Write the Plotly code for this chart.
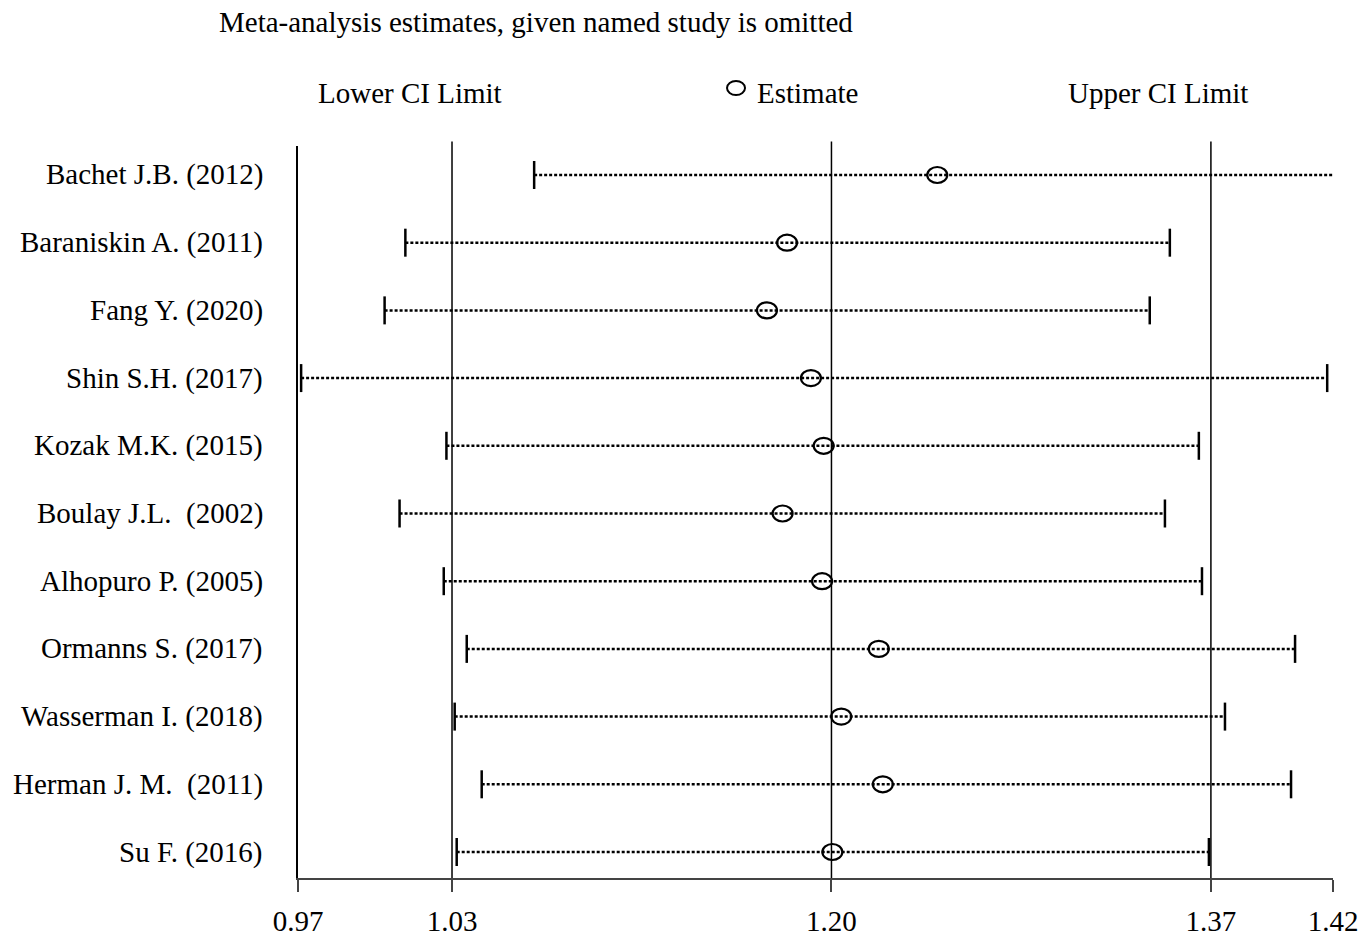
import plotly.graph_objects as go

studies = ["Bachet J.B. (2012)", "Baraniskin A. (2011)", "Fang Y. (2020)", "Shin S.H. (2017)",
           "Kozak M.K. (2015)", "Boulay J.L.\u00a0 (2002)", "Alhopuro P. (2005)", "Ormanns S. (2017)",
           "Wasserman I. (2018)", "Herman J. M.\u00a0 (2011)", "Su F. (2016)"]
estimate = [1.2474, 1.1801, 1.1711, 1.1908, 1.1965, 1.1781, 1.1958, 1.2212, 1.2044, 1.2230, 1.2004]
lower = [1.0668, 1.0091, 0.9998, 0.9624, 1.0275, 1.0065, 1.0263, 1.0366, 1.0312, 1.0433, 1.0321]
upper = [1.4264, 1.3516, 1.3426, 1.4221, 1.3646, 1.3494, 1.3660, 1.4077, 1.3763, 1.4059, 1.3691]
overall = [1.03, 1.20, 1.37]
tick_vals = [0.961, 1.03, 1.20, 1.37, 1.4247]
tick_text = ["0.97", "1.03", "1.20", "1.37", "1.42"]

FONT = "Liberation Serif, Times New Roman, serif"
rows = list(range(len(studies)))

ex, ey = [], []
for i in rows:
    ex += [lower[i], upper[i], None]
    ey += [i, i, None]

fig = go.Figure()
fig.add_trace(go.Scatter(x=ex, y=ey, mode="lines",
                         line=dict(color="black", width=2.5, dash="3px,2px"),
                         hoverinfo="skip", showlegend=False, cliponaxis=False))
fig.add_trace(go.Scatter(x=lower + upper, y=rows + rows, mode="markers",
                         marker=dict(symbol="line-ns", size=20, line=dict(color="black", width=2.5)),
                         showlegend=False, cliponaxis=False))

shapes = []
for v in overall:
    shapes.append(dict(type="line", xref="x", yref="paper", x0=v, x1=v, y0=0, y1=1.006,
                       line=dict(color="black", width=1.5), layer="below"))
for i in rows:
    shapes.append(dict(type="circle", xref="x", yref="y", xsizemode="pixel", ysizemode="pixel",
                       xanchor=estimate[i], yanchor=i, x0=-10, x1=10, y0=-8, y1=8,
                       line=dict(color="black", width=2.2)))
# legend ellipse
shapes.append(dict(type="circle", xref="paper", yref="paper", xsizemode="pixel", ysizemode="pixel",
                   xanchor=0.4232, yanchor=1.0792, x0=-9, x1=9, y0=-7, y1=7,
                   line=dict(color="black", width=2)))

annotations = []
for i in rows:
    annotations.append(dict(text=studies[i], x=0, xref="paper", y=i, yref="y", xanchor="right",
                            xshift=-33, showarrow=False, font=dict(family=FONT, size=29, color="black")))
annotations += [
    dict(text="Meta-analysis estimates, given named study is omitted", x=-0.0783, xref="paper",
         y=1.1694, yref="paper", xanchor="left", yanchor="middle", showarrow=False,
         font=dict(family=FONT, size=29, color="black")),
    dict(text="Lower CI Limit", x=0.1082, xref="paper", y=1.0724, yref="paper", xanchor="center",
         yanchor="middle", showarrow=False, font=dict(family=FONT, size=29, color="black")),
    dict(text="Estimate", x=0.4415, xref="paper", y=1.0724, yref="paper", xanchor="left",
         yanchor="middle", showarrow=False, font=dict(family=FONT, size=29, color="black")),
    dict(text="Upper CI Limit", x=0.8309, xref="paper", y=1.0724, yref="paper", xanchor="center",
         yanchor="middle", showarrow=False, font=dict(family=FONT, size=29, color="black")),
]

fig.update_layout(
    width=1369, height=936,
    margin=dict(l=290, r=44, t=138, b=66, pad=0),
    plot_bgcolor="white", paper_bgcolor="white",
    shapes=shapes, annotations=annotations, showlegend=False,
    xaxis=dict(range=[tick_vals[0], tick_vals[-1]], tickvals=tick_vals, ticktext=tick_text,
               showgrid=False, zeroline=False, showline=True, linecolor="#444", linewidth=1.5,
               ticks="outside", ticklen=12, tickwidth=1.5, tickcolor="#444",
               ticklabelstandoff=4, automargin=False,
               tickfont=dict(family=FONT, size=29, color="black")),
    yaxis=dict(range=[10.384, -0.428], showgrid=False, zeroline=False, showticklabels=False,
               showline=True, linecolor="black", linewidth=1.5, ticks="", automargin=False),
)

fig.write_html("out.html")
